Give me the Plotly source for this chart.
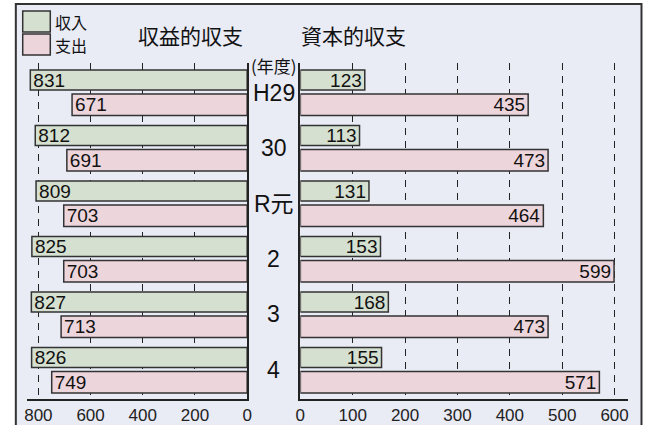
import plotly.graph_objects as go
from plotly.subplots import make_subplots

# ---- data ----
years = ["H29", "30", "R元", "2", "3", "4"]
rev_income = [831, 812, 809, 825, 827, 826]      # 収益的収支 収入
rev_expense = [671, 691, 703, 703, 713, 749]     # 収益的収支 支出
cap_income = [123, 113, 131, 153, 168, 155]      # 資本的収支 収入
cap_expense = [435, 473, 464, 599, 473, 571]     # 資本的収支 支出
left_ticks = [800, 600, 400, 200, 0]
right_ticks = [0, 100, 200, 300, 400, 500, 600]

# ---- style ----
W, H = 646, 425
ML, MR, MT, MB = 0, 0, 63, 26
PH = H - MT - MB
BG = "#e9ebf5"
GREEN = "#d5e0d0"
PINK = "#edd5dc"
EDGE = "#333333"
FONT = "Liberation Sans, Arial, Noto Sans CJK JP, sans-serif"
CJK = "Noto Sans CJK JP, Liberation Sans, sans-serif"

def px_x(p):
    return (p - ML) / (W - ML - MR)

def px_y(p):
    return (H - MB - p) / PH

fig = make_subplots(rows=1, cols=2, shared_yaxes=False, horizontal_spacing=0.0)

def bar(x, color, offset, width, xaxis, yaxis):
    return go.Bar(
        x=x, y=years, orientation="h",
        marker=dict(color=color, line=dict(color=EDGE, width=1.5)),
        offset=offset, width=width,
        text=[str(v) for v in x], textposition="inside",
        insidetextanchor="end", textangle=0, constraintext="none",
        textfont=dict(size=19, color="#111", family=FONT),
        xaxis=xaxis, yaxis=yaxis, showlegend=False, hoverinfo="skip",
    )

G_OFF, G_W = -0.405, 0.36
P_OFF, P_W = 0.027, 0.387

fig.add_trace(bar(rev_income, GREEN, G_OFF, G_W, "x", "y"))
fig.add_trace(bar(rev_expense, PINK, P_OFF, P_W, "x", "y"))
fig.add_trace(bar(cap_income, GREEN, G_OFF, G_W, "x2", "y2"))
fig.add_trace(bar(cap_expense, PINK, P_OFF, P_W, "x2", "y2"))

yr = [5.523, -0.532]
grid = dict(showgrid=True, gridcolor="#222", gridwidth=1.2, griddash="7px,6px",
            zeroline=False, showline=True, linecolor="#222", linewidth=1.5,
            ticks="", tickfont=dict(size=17, color="#222", family=FONT))

fig.update_layout(
    width=W, height=H,
    margin=dict(l=ML, r=MR, t=MT, b=MB),
    paper_bgcolor="white", plot_bgcolor="rgba(0,0,0,0)",
    barmode="overlay",
    font=dict(family=FONT, color="#222"),
    xaxis=dict(domain=[px_x(22), px_x(246)], range=[845, 0],
               tickvals=left_ticks, ticktext=[str(t) for t in left_ticks], **grid),
    xaxis2=dict(domain=[px_x(300), px_x(633)], range=[0, 626],
                tickvals=right_ticks, ticktext=[str(t) for t in right_ticks],
                anchor="y2", **grid),
    yaxis=dict(type="category", categoryarray=years, range=yr, side="right",
               showline=True, linecolor="#222", linewidth=1.5,
               showticklabels=False, showgrid=False, zeroline=False, ticks=""),
    yaxis2=dict(type="category", categoryarray=years, range=yr, side="left",
                anchor="x2", matches="y",
                showline=True, linecolor="#222", linewidth=1.5,
                showticklabels=False, showgrid=False, zeroline=False, ticks=""),
)

shapes = [
    dict(type="rect", xref="paper", yref="paper", layer="below",
         x0=px_x(11), x1=px_x(646.5), y0=px_y(432), y1=px_y(4),
         fillcolor=BG, line=dict(color="#333", width=2)),
    dict(type="rect", xref="paper", yref="paper",
         x0=px_x(18), x1=px_x(46), y0=px_y(32), y1=px_y(11),
         fillcolor=GREEN, line=dict(color=EDGE, width=1.5)),
    dict(type="rect", xref="paper", yref="paper",
         x0=px_x(18), x1=px_x(46), y0=px_y(55), y1=px_y(34),
         fillcolor=PINK, line=dict(color=EDGE, width=1.5)),
]

ann = [
    dict(text="収入", x=px_x(49), y=px_y(22), xanchor="left", yanchor="middle",
         font=dict(size=16, family=CJK, color="#111")),
    dict(text="支出", x=px_x(49), y=px_y(45), xanchor="left", yanchor="middle",
         font=dict(size=16, family=CJK, color="#111")),
    dict(text="収益的収支", x=px_x(188), y=px_y(35), xanchor="center", yanchor="middle",
         font=dict(size=21, family=CJK, color="#111")),
    dict(text="資本的収支", x=px_x(354), y=px_y(35), xanchor="center", yanchor="middle",
         font=dict(size=21, family=CJK, color="#111")),
    dict(text="(年度)", x=px_x(273), y=px_y(65), xanchor="center", yanchor="middle",
         font=dict(size=17, family=CJK, color="#111")),
]
for a in ann:
    a.update(xref="paper", yref="paper", showarrow=False)

for i, yv in enumerate(years):
    ann.append(dict(text=yv, xref="paper", yref="y", x=px_x(273), y=i,
                    xanchor="center", yanchor="middle", showarrow=False,
                    font=dict(size=23, family=FONT, color="#111")))

fig.update_layout(shapes=shapes, annotations=ann)

fig.write_html("out.html")
